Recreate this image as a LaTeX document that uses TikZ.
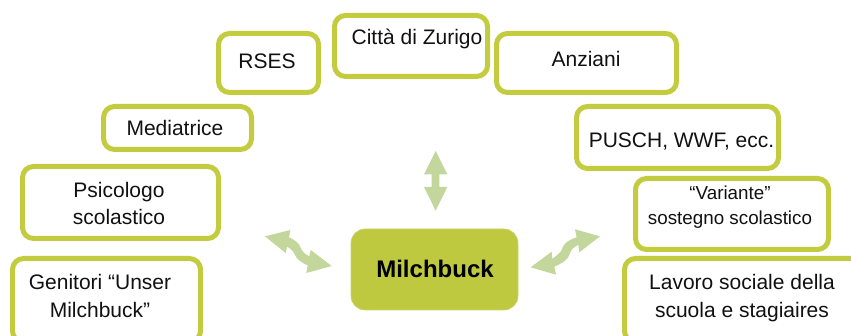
\documentclass[tikz,border=0pt]{standalone}
\usepackage{fontspec}
\setmainfont{Liberation Sans}
\definecolor{boxline}{HTML}{C3CB3F}
\definecolor{boxfill}{HTML}{BFC93F}
\definecolor{hubline}{HTML}{CDD46A}
\definecolor{arrowfill}{HTML}{C3D69B}
\definecolor{inktext}{HTML}{111111}
\tikzset{
  box/.style={draw=boxline,line width=5pt,fill=white,rounded corners=11pt,inner sep=0pt},
  hub/.style={draw=hubline,line width=0.6pt,fill=boxfill,rounded corners=14pt,inner sep=0pt},
  lbl/.style={text=inktext,inner sep=0pt,align=center,font=\fontsize{21pt}{27.5pt}\selectfont},
  lblsmall/.style={text=inktext,inner sep=0pt,align=center,font=\fontsize{18.8pt}{25pt}\selectfont},
  lblhub/.style={text=black,inner sep=0pt,font=\fontsize{24pt}{28pt}\selectfont\bfseries},
  blockarrow/.style={fill=arrowfill,draw=none},
  zoomed/.style={x=0.33333pt,y=-0.33333pt,shift={(240pt,-140pt)}}
}
\begin{document}
\begin{tikzpicture}[x=1pt,y=-1pt]
\clip (0,0) rectangle (851,336);
\fill[white] (0,0) rectangle (851,336);
% boxes
\node[box,minimum width=100pt,minimum height=59pt] (rses) at (268.5,63) {};
\node[box,minimum width=153pt,minimum height=61pt] (citta) at (411,46) {};
\node[box,minimum width=148pt,minimum height=43pt] (med) at (177.5,128) {};
\node[box,minimum width=196pt,minimum height=72pt] (psi) at (120.5,202.5) {};
\node[box,minimum width=188pt,minimum height=83.5pt] (gen) at (106.5,300.25) {};
\node[box,minimum width=180pt,minimum height=59pt] (anz) at (586.5,63) {};
\node[box,minimum width=202pt,minimum height=62pt] (pus) at (677.5,137.5) {};
\node[box,minimum width=193pt,minimum height=71pt] (var) at (732,214) {};
\node[box,minimum width=255.5pt,minimum height=83.5pt] (lav) at (752.25,300.25) {};
\node[hub,minimum width=167pt,minimum height=81pt] (mil) at (434.5,269.5) {};
% labels
\node[lbl,anchor=base] (trses) at (267,69) {RSES};
\node[lbl,anchor=base] (tcitta) at (417,45) {Città di Zurigo};
\node[lbl,anchor=base] (tmed) at (175,136) {Mediatrice};
\node[lbl] (tpsi) at (119,203.5) {Psicologo\\scolastico};
\node[lbl] (tgen) at (100,296) {Genitori “Unser\\Milchbuck”};
\node[lbl,anchor=base] (tanz) at (586,67) {Anziani};
\node[lbl,anchor=base] (tpus) at (681.5,148) {PUSCH, WWF, ecc.};
\node[lblsmall] (tvar) at (730,207) {“Variante”\\sostegno scolastico};
\node[lbl] (tlav) at (742,298) {Lavoro sociale della\\scuola e stagiaires};
\node[lblhub,anchor=base] (tmil) at (435,278) {Milchbuck};
% block arrows
\begin{scope}[zoomed]
\fill[blockarrow] (587,33) -- (622,103) -- (598,103) -- (598,141) -- (622,141)
  -- (587,212) -- (552,141) -- (575,141) -- (575,103) -- (552,103) -- cycle;
\fill[blockarrow] (75,289) -- (151,270) -- (147,292)
  .. controls (165,300) and (178,310) .. (183,325)
  .. controls (187,337) and (197,343) .. (208,349)
  -- (212,330) -- (275,378) -- (199,399) -- (203,376)
  .. controls (185,368) and (170,358) .. (165,345)
  .. controls (160,332) and (152,326) .. (141,320)
  -- (137,339) -- cycle;
\fill[blockarrow] (1080,289) -- (1005,268) -- (1010,292)
  .. controls (985,300) and (970,312) .. (967,325)
  .. controls (963,340) and (950,345) .. (937,357)
  -- (935,335) -- (872,382) -- (948,404) -- (943,380)
  .. controls (965,370) and (985,360) .. (990,340)
  .. controls (992,330) and (1000,322) .. (1015,315)
  -- (1018,337) -- cycle;
\end{scope}
\end{tikzpicture}
\end{document}
